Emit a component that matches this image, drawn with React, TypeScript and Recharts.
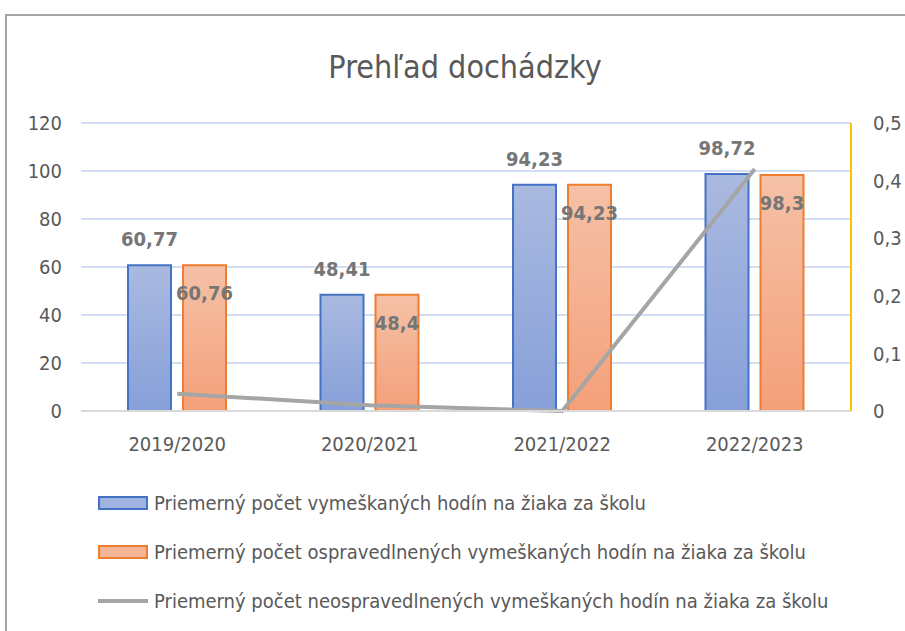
import React from 'react';
import {
  ComposedChart,
  Bar,
  Line,
  XAxis,
  YAxis,
  CartesianGrid,
  LabelList,
} from 'recharts';

const years = ['2019/2020', '2020/2021', '2021/2022', '2022/2023'];
const totalHours = [60.77, 48.41, 94.23, 98.72];
const excusedHours = [60.76, 48.4, 94.23, 98.3];
const unexcusedHours = [0.03, 0.01, 0, 0.42];
const leftTicks = [0, 20, 40, 60, 80, 100, 120];
const rightTicks = [0, 0.1, 0.2, 0.3, 0.4, 0.5];

const seriesNames = [
  'Priemerný počet vymeškaných hodín na žiaka za školu',
  'Priemerný počet ospravedlnených vymeškaných hodín na žiaka za školu',
  'Priemerný počet neospravedlnených vymeškaných hodín na žiaka za školu',
];

const data = years.map((year, i) => ({
  year,
  total: totalHours[i],
  excused: excusedHours[i],
  unexcused: unexcusedHours[i],
}));

const FONT = "'Liberation Sans Narrow', 'DejaVu Sans Condensed', 'Liberation Sans', sans-serif";
const comma = (v: any) => String(v).replace('.', ',');

const tickStyle = { fontSize: 20, fill: '#595959', fontFamily: FONT };
const labelStyle = { fontSize: 20, fill: '#767676', fontWeight: 700, fontFamily: FONT };

function LegendBox({ kind }: { kind: number }) {
  if (kind === 2) {
    return <div style={{ width: 50, height: 4, background: '#a5a5a5', margin: '5px 0' }} />;
  }
  const style =
    kind === 0
      ? { background: '#a0b2e0', border: '2px solid #4472c4' }
      : { background: '#f4b597', border: '2px solid #ed7d31' };
  return <div style={{ width: 46, height: 10, ...style }} />;
}

export default function App() {
  return (
    <div style={{ position: 'absolute', left: 0, top: 0, width: 905, height: 631, background: '#fff', overflow: 'hidden', fontFamily: FONT }}>
      <div style={{ position: 'absolute', left: 5, top: 14, width: 920, height: 640, border: '2px solid #a6a6a6' }} />
      <div style={{ position: 'absolute', left: 0, top: 48, width: 930, textAlign: 'center', fontSize: 32, color: '#595959' }}>
        Prehľad dochádzky
      </div>
      <div style={{ position: 'absolute', left: 0, top: 0 }}>
        <ComposedChart
          width={905}
          height={470}
          data={data}
          margin={{ top: 123, right: 0, bottom: 19, left: 0 }}
          barGap={12}
        >
          <defs>
            <linearGradient id="blueFill" x1="0" y1="0" x2="0" y2="1">
              <stop offset="0%" stopColor="#aab9e0" />
              <stop offset="100%" stopColor="#87a0d9" />
            </linearGradient>
            <linearGradient id="orangeFill" x1="0" y1="0" x2="0" y2="1">
              <stop offset="0%" stopColor="#f5c1a7" />
              <stop offset="100%" stopColor="#f4a07a" />
            </linearGradient>
          </defs>
          <CartesianGrid vertical={false} stroke="#d3ddf2" strokeWidth={2} yAxisId="left" />
          <XAxis
            dataKey="year"
            height={40}
            tickSize={0}
            tickMargin={26}
            tick={tickStyle}
            axisLine={{ stroke: '#d9d9d9', strokeWidth: 2 }}
          />
          <YAxis
            yAxisId="left"
            width={81}
            domain={[0, 120]}
            ticks={leftTicks}
            tickSize={0}
            tickMargin={19}
            tick={tickStyle}
            axisLine={false}
          />
          <YAxis
            yAxisId="right"
            orientation="right"
            width={54}
            domain={[0, 0.5]}
            ticks={rightTicks}
            tickFormatter={comma}
            tickSize={0}
            tickMargin={22}
            tick={{ ...tickStyle, textAnchor: 'start' }}
            axisLine={{ stroke: '#ffc000', strokeWidth: 2 }}
          />
          <Bar
            yAxisId="left"
            dataKey="total"
            name={seriesNames[0]}
            barSize={43}
            fill="url(#blueFill)"
            stroke="#4472c4"
            strokeWidth={2}
            isAnimationActive={false}
          >
            <LabelList dataKey="total" position="top" offset={19} formatter={comma} style={labelStyle} />
          </Bar>
          <Bar
            yAxisId="left"
            dataKey="excused"
            name={seriesNames[1]}
            barSize={43}
            fill="url(#orangeFill)"
            stroke="#ed7d31"
            strokeWidth={2}
            isAnimationActive={false}
          >
            <LabelList dataKey="excused" position="insideTop" offset={21} formatter={comma} style={labelStyle} />
          </Bar>
          <Line
            yAxisId="right"
            dataKey="unexcused"
            name={seriesNames[2]}
            stroke="#a5a5a5"
            strokeWidth={4}
            dot={false}
            type="linear"
            isAnimationActive={false}
          />
        </ComposedChart>
      </div>
      {seriesNames.map((name, i) => (
        <div
          key={name}
          style={{ position: 'absolute', left: 98, top: 491 + i * 49, display: 'flex', alignItems: 'center', gap: 6, fontSize: 20, color: '#595959', whiteSpace: 'nowrap' }}
        >
          <LegendBox kind={i} />
          <span>{name}</span>
        </div>
      ))}
    </div>
  );
}
